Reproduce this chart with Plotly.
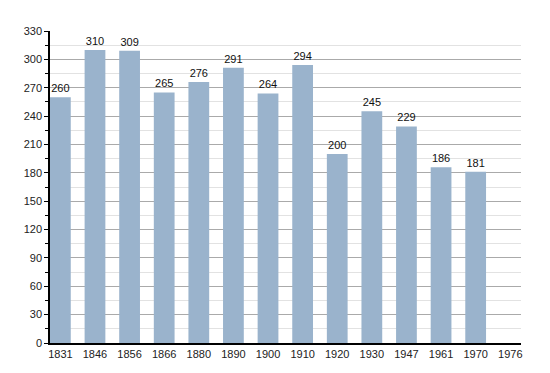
import plotly.graph_objects as go

years = ["1831", "1846", "1856", "1866", "1880", "1890", "1900", "1910", "1920", "1930", "1947", "1961", "1970", "1976"]
population = [260, 310, 309, 265, 276, 291, 264, 294, 200, 245, 229, 186, 181, None]

xpos = list(range(len(years)))
bx = [x for x, v in zip(xpos, population) if v is not None]
by = [v for v in population if v is not None]

fig = go.Figure()
fig.add_trace(go.Bar(
    x=bx, y=by, width=0.6,
    marker=dict(color="#9ab3cc", line=dict(width=0)),
    text=[str(v) for v in by], textposition="outside",
    textfont=dict(family="Liberation Sans, Arial, sans-serif", size=11, color="#111"),
    cliponaxis=False,
))
# page body has an 8px default margin, so offset margins accordingly
fig.update_layout(
    width=550, height=373,
    margin=dict(l=42, r=37, t=23, b=38),
    paper_bgcolor="white", plot_bgcolor="white",
    showlegend=False,
    font=dict(family="Liberation Sans, Arial, sans-serif", size=11, color="#222"),
    xaxis=dict(
        range=[-0.3, 13.31], tickmode="array", tickvals=xpos, ticktext=years,
        showgrid=False, zeroline=False, showline=True, linecolor="black", linewidth=1.5,
        ticks="", tickfont=dict(size=11),
    ),
    yaxis=dict(
        range=[0, 330], tickmode="linear", tick0=0, dtick=30,
        showgrid=True, gridcolor="#aaaaaa", gridwidth=1,
        zeroline=False, showline=True, linecolor="black", linewidth=1.5,
        ticks="outside", ticklen=4, tickcolor="black", tickfont=dict(size=11),
        minor=dict(dtick=15, showgrid=True, gridcolor="#e2e2e2", ticks="outside", ticklen=3, tickcolor="black"),
    ),
)
fig.write_html("out.html")
